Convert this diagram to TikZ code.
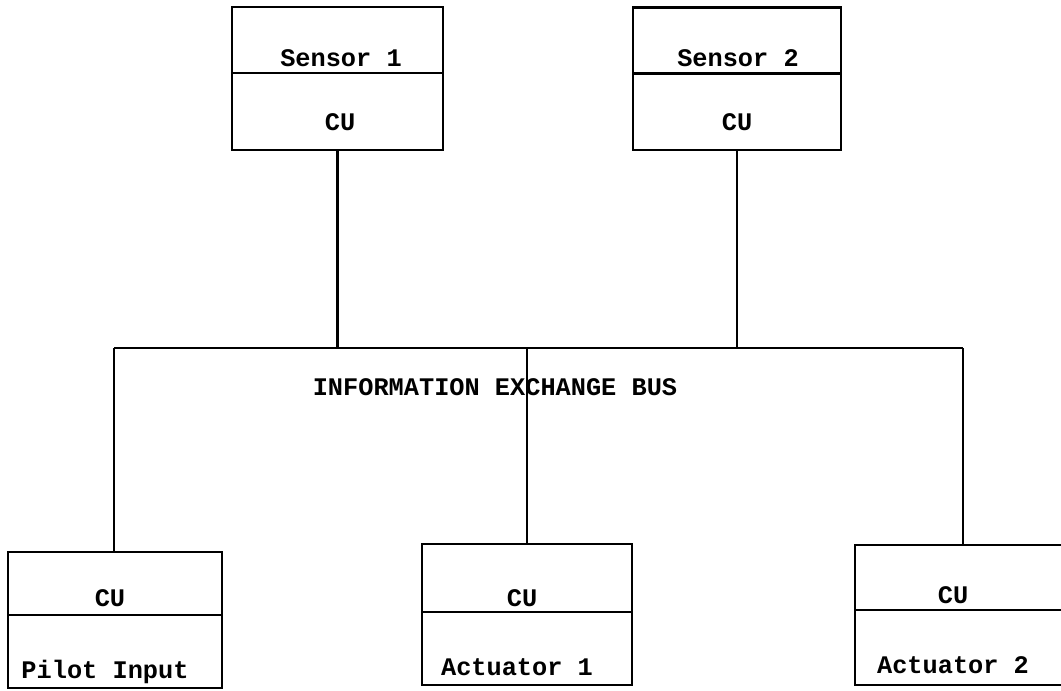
\documentclass[tikz,border=0pt]{standalone}
\usepackage{fontspec}
\setmonofont{Liberation Mono}
\usepackage{tikz}
\usetikzlibrary{positioning}

\begin{document}
\begin{tikzpicture}[
  x=0.02cm, y=-0.02cm,
  font=\ttfamily\bfseries\fontsize{14.4}{16}\selectfont,
  part/.style={draw, line width=1.6pt, inner sep=0pt},
  txt/.style={inner sep=1pt},
  wire/.style={line width=1.6pt}
]
\useasboundingbox (0,0) rectangle (1061,690);
% sensors (top row)
\node[part, minimum width=4.22cm, minimum height=1.32cm] (s1top) at (337.5,40) {};
\node[part, minimum width=4.22cm, minimum height=1.54cm] (s1cu) at (337.5,111.5) {};
\node[part, minimum width=4.16cm, minimum height=1.32cm] (s2top) at (737,40.5) {};
\node[part, minimum width=4.16cm, minimum height=1.54cm] (s2cu) at (737,111.5) {};
\node[txt] (s1lbl) at (341,58) {Sensor 1};
\node[txt] (s1cul) at (340,122) {CU};
\node[txt] (s2lbl) at (738,58) {Sensor 2};
\node[txt] (s2cul) at (737,122) {CU};
% units (bottom row)
\node[part, minimum width=4.28cm, minimum height=1.26cm] (pcu) at (115,583.5) {};
\node[part, minimum width=4.28cm, minimum height=1.46cm] (pbot) at (115,651.5) {};
\node[part, minimum width=4.2cm, minimum height=1.36cm] (a1cu) at (527,578) {};
\node[part, minimum width=4.2cm, minimum height=1.46cm] (a1bot) at (527,648.5) {};
\node[part, minimum width=4.2cm, minimum height=1.3cm] (a2cu) at (960,577.5) {};
\node[part, minimum width=4.2cm, minimum height=1.5cm] (a2bot) at (960,647.5) {};
\node[txt] (pcul) at (110,598) {CU};
\node[txt] (plbl) at (105,672) {Pilot Input};
\node[txt] (a1cul) at (522,598) {CU};
\node[txt] (a1lbl) at (517,667) {Actuator 1};
\node[txt] (a2cul) at (953,595) {CU};
\node[txt] (a2lbl) at (953,665) {Actuator 2};
% bus
\coordinate (busL) at (114,348);
\coordinate (busR) at (963,348);
\draw[wire] (busL) -- (busR);
\node[txt] (buslbl) at (495,387) {INFORMATION EXCHANGE BUS};
\draw[wire] (s1cu.south) -- (s1cu.south |- busL);
\draw[wire] (s2cu.south) -- (s2cu.south |- busL);
\draw[wire] (busL) -- (pcu.north -| busL);
\draw[wire] (a1cu.north) -- (a1cu.north |- busL);
\draw[wire] (busR) -- (a2cu.north -| busR);
\end{tikzpicture}
\end{document}
